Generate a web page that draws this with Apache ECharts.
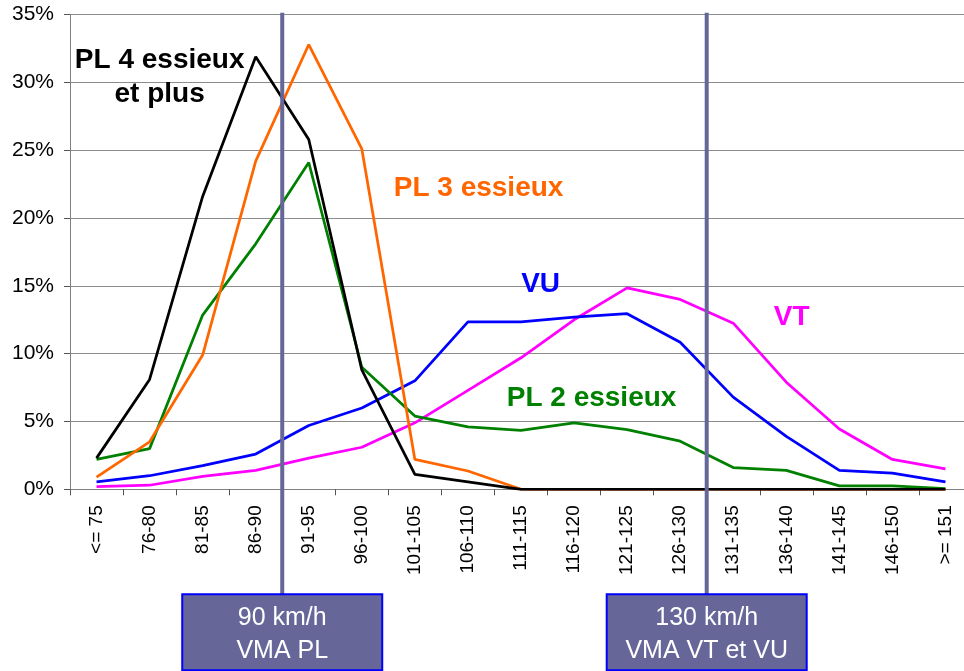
<!DOCTYPE html>
<html>
<head>
<meta charset="utf-8">
<script src="https://cdn.jsdelivr.net/npm/echarts@6/dist/echarts.min.js"></script>
<style>
  html, body { margin: 0; padding: 0; background: #fff; overflow: hidden; }
  #main { width: 972px; height: 671px; }
</style>
</head>
<body>
<div id="main"></div>
<script>
// classes de vitesse (km/h)
var categories = ['<= 75', '76-80', '81-85', '86-90', '91-95', '96-100', '101-105', '106-110',
  '111-115', '116-120', '121-125', '126-130', '131-135', '136-140', '141-145', '146-150', '>= 151'];

// part des vehicules (%)
var pl4 = [2.3, 8.1, 21.6, 31.9, 25.8, 8.8, 1.1, 0.55, 0, 0, 0, 0, 0, 0, 0, 0, 0];
var pl3 = [0.9, 3.5, 9.9, 24.2, 32.8, 25.1, 2.2, 1.35, 0, 0, 0, 0, 0, 0, 0, 0, 0];
var pl2 = [2.2, 3.0, 12.85, 18.1, 24.1, 9.0, 5.4, 4.6, 4.35, 4.9, 4.4, 3.55, 1.6, 1.4, 0.25, 0.25, 0.05];
var vu = [0.55, 1.0, 1.75, 2.6, 4.7, 6.0, 8.0, 12.35, 12.35, 12.7, 12.95, 10.85, 6.8, 3.9, 1.4, 1.2, 0.55];
var vt = [0.2, 0.3, 0.95, 1.4, 2.3, 3.1, 4.9, 7.3, 9.7, 12.5, 14.85, 14.0, 12.25, 7.9, 4.45, 2.2, 1.5];

var yTicks = [0, 5, 10, 15, 20, 25, 30, 35];

// limites de vitesse : position entre deux classes
var limites = [
  { after: 3, text: '90 km/h\nVMA PL' },
  { after: 11, text: '130 km/h\nVMA VT et VU' }
];

// etiquettes des courbes (index de classe, valeur %)
var etiquettes = [
  { text: 'PL 4 essieux\net plus', x: 1.19, y: 30.4, color: '#000000' },
  { text: 'PL 3 essieux', x: 7.2, y: 22.2, color: '#ff6600' },
  { text: 'VU', x: 8.37, y: 15.1, color: '#0000ff' },
  { text: 'VT', x: 13.1, y: 12.7, color: '#ff00ff' },
  { text: 'PL 2 essieux', x: 9.33, y: 6.7, color: '#008000' }
];

var myChart = echarts.init(document.getElementById('main'));

function serie(name, data, color) {
  return {
    name: name,
    type: 'line',
    data: data,
    symbol: 'none',
    smooth: false,
    lineStyle: { color: color, width: 2.75 },
    itemStyle: { color: color },
    z: 3
  };
}

var option = {
  animation: false,
  backgroundColor: '#ffffff',
  textStyle: { fontFamily: 'Liberation Sans, Arial, sans-serif' },
  grid: { left: 70, top: 14.7, right: 0, bottom: 181.7 },
  xAxis: {
    type: 'category',
    data: categories,
    boundaryGap: true,
    axisLine: { lineStyle: { color: '#808080', width: 1 } },
    axisTick: { show: true, length: 6, lineStyle: { color: '#555' } },
    axisLabel: {
      rotate: 90,
      margin: 16,
      fontSize: 19,
      color: '#000',
      fontFamily: 'Liberation Sans, Arial, sans-serif',
      interval: 0
    },
    splitLine: { show: false }
  },
  yAxis: {
    type: 'value',
    min: 0,
    max: 35,
    interval: 5,
    axisLine: { show: true, lineStyle: { color: '#808080', width: 1 } },
    axisTick: { show: true, length: 6, lineStyle: { color: '#555' } },
    axisLabel: {
      formatter: '{value}%',
      fontSize: 21,
      margin: 16,
      color: '#000',
      fontFamily: 'Liberation Sans, Arial, sans-serif'
    },
    splitLine: { lineStyle: { color: '#8c8c8c', width: 1 } }
  },
  series: [
    serie('VT', vt, '#ff00ff'),
    serie('VU', vu, '#0000ff'),
    serie('PL 2 essieux', pl2, '#008000'),
    serie('PL 3 essieux', pl3, '#ff6600'),
    serie('PL 4 essieux et plus', pl4, '#000000')
  ]
};

myChart.setOption(option);

// position en pixels a partir des classes / valeurs
var px0 = myChart.convertToPixel({ xAxisIndex: 0 }, 0);
var px1 = myChart.convertToPixel({ xAxisIndex: 0 }, 1);
var step = px1 - px0;
function xPix(i) { return px0 + step * i; }
function yPix(v) { return myChart.convertToPixel({ yAxisIndex: 0 }, v); }

var yBas = yPix(0);
var yHaut = yPix(35);
var graphics = [];

for (var i = 0; i < limites.length; i++) {
  var lx = xPix(limites[i].after + 0.5);
  var boxTop = yBas + 105;
  graphics.push({
    type: 'line',
    shape: { x1: lx, y1: yHaut - 2, x2: lx, y2: boxTop },
    style: { stroke: '#666699', lineWidth: 4 },
    z: 10
  });
  graphics.push({
    type: 'rect',
    shape: { x: lx - 100, y: boxTop, width: 200, height: 76 },
    style: { fill: '#666699', stroke: '#0000ff', lineWidth: 2 },
    z: 10
  });
  graphics.push({
    type: 'text',
    x: lx,
    y: boxTop + 40,
    style: {
      text: limites[i].text,
      fill: '#ffffff',
      font: '25px "Liberation Sans", Arial, sans-serif',
      textAlign: 'center',
      textVerticalAlign: 'middle',
      lineHeight: 33
    },
    z: 11
  });
}

for (var k = 0; k < etiquettes.length; k++) {
  var e = etiquettes[k];
  graphics.push({
    type: 'text',
    x: xPix(e.x),
    y: yPix(e.y),
    style: {
      text: e.text,
      fill: e.color,
      font: 'bold 28px "Liberation Sans", Arial, sans-serif',
      textAlign: 'center',
      textVerticalAlign: 'middle',
      lineHeight: 34
    },
    z: 12
  });
}

myChart.setOption({ graphic: graphics });
</script>
</body>
</html>
